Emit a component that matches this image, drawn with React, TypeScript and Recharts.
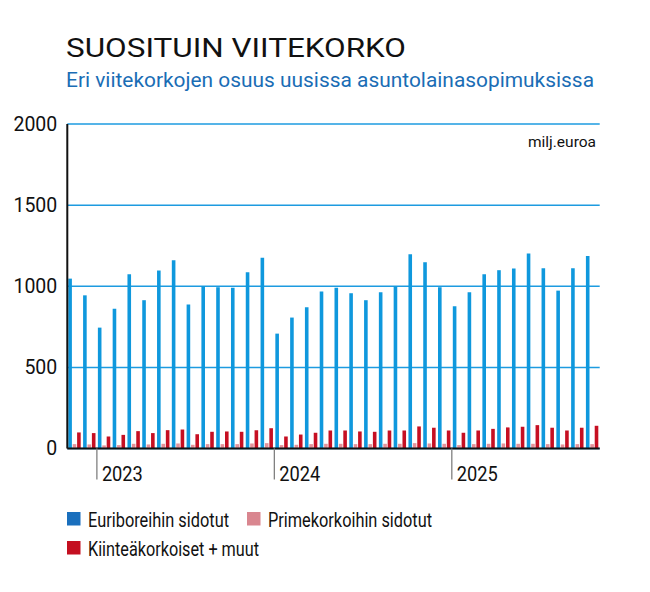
import React from 'react';
import { BarChart, Bar, XAxis, YAxis, CartesianGrid } from 'recharts';

const months = [
  '2022-11', '2022-12',
  '2023-01', '2023-02', '2023-03', '2023-04', '2023-05', '2023-06', '2023-07', '2023-08', '2023-09', '2023-10', '2023-11', '2023-12',
  '2024-01', '2024-02', '2024-03', '2024-04', '2024-05', '2024-06', '2024-07', '2024-08', '2024-09', '2024-10', '2024-11', '2024-12',
  '2025-01', '2025-02', '2025-03', '2025-04', '2025-05', '2025-06', '2025-07', '2025-08', '2025-09', '2025-10',
];

const euribor = [
  1047, 944,
  745, 862, 1074, 914, 1097, 1160, 887, 1000, 994, 990, 1086, 1175,
  708, 807, 870, 967, 990, 957, 914, 963, 1000, 1197, 1148, 994,
  877, 963, 1074, 1099, 1109, 1202, 1111, 973, 1111, 1187,
];

const prime = [
  27, 25,
  19, 21, 29, 25, 29, 31, 23, 27, 27, 27, 31, 33,
  21, 23, 27, 29, 29, 27, 27, 29, 29, 33, 31, 29,
  21, 27, 29, 31, 29, 29, 27, 25, 27, 27,
];

const fixedRate = [
  99, 95,
  74, 84, 107, 95, 113, 117, 88, 103, 105, 103, 113, 125,
  74, 86, 97, 111, 111, 105, 103, 111, 111, 136, 128, 111,
  97, 111, 121, 130, 134, 144, 128, 111, 128, 140,
];

const yTicks = [0, 500, 1000, 1500, 2000];
const yearTicks = ['2023-01', '2024-01', '2025-01'];
const seriesNames = ['Euriboreihin sidotut', 'Primekorkoihin sidotut', 'Kiinteäkorkoiset + muut'];
const title = 'SUOSITUIN VIITEKORKO';
const subtitle = 'Eri viitekorkojen osuus uusissa asuntolainasopimuksissa';
const unitLabel = 'milj.euroa';

const data = months.map((m, i) => ({
  m,
  euribor: euribor[i],
  prime: prime[i],
  fixedRate: fixedRate[i],
}));

const BLUE = '#0f98dd';
const PINK = '#e4939b';
const RED = '#c60f22';
const GRID = '#1d9be0';
const SANS = 'Roboto, "Noto Sans", sans-serif';

function YearTick(props: any) {
  const { x, y, payload } = props;
  const half = payload && payload.offset ? payload.offset : 7.4;
  const lx = x - half;
  const label = String(payload.value).slice(0, 4);
  return (
    <g>
      <line x1={lx} y1={y} x2={lx} y2={y + 31} stroke="#808080" strokeWidth={1.3} />
      <text x={lx + 5} y={y + 32.5} fontSize={19.5} fill="#111" fontFamily={SANS} textLength={41} lengthAdjust="spacingAndGlyphs">
        {label}
      </text>
    </g>
  );
}

export default function App() {
  const legendItems = [
    { name: seriesNames[0], color: '#1a6fbd', x: 67, y: 512, len: 141 },
    { name: seriesNames[1], color: '#d9868f', x: 247, y: 512, len: 164 },
    { name: seriesNames[2], color: '#c40f20', x: 67, y: 541, len: 171 },
  ];
  return (
    <div style={{ position: 'absolute', left: 0, top: 0, width: 650, height: 592, background: '#fff' }}>
      <BarChart
        width={650}
        height={592}
        data={data}
        margin={{ top: 124, right: 50.3, bottom: 113.5, left: 0 }}
        barGap={0.8}
        barSize={3.6}
      >
        <CartesianGrid vertical={false} stroke={GRID} strokeWidth={1.5} />
        <XAxis
          dataKey="m"
          ticks={yearTicks}
          interval={0}
          height={30}
          tickSize={0}
          tickMargin={0}
          tickLine={false}
          axisLine={{ stroke: '#111', strokeWidth: 2 }}
          tick={<YearTick />}
        />
        <YAxis
          domain={[0, 2000]}
          ticks={yTicks}
          width={67.3}
          tickLine={false}
          tickSize={0}
          tickMargin={10}
          axisLine={{ stroke: '#111', strokeWidth: 2 }}
          tick={{ fontSize: 19.5, fill: '#111', fontFamily: SANS }}
        />
        <Bar dataKey="euribor" fill={BLUE} isAnimationActive={false} />
        <Bar dataKey="prime" fill={PINK} isAnimationActive={false} />
        <Bar dataKey="fixedRate" fill={RED} isAnimationActive={false} />
      </BarChart>
      <svg
        width={650}
        height={592}
        style={{ position: 'absolute', left: 0, top: 0, pointerEvents: 'none' }}
      >
        <text x={66} y={57} fontSize={25} fill="#111" fontFamily={SANS} textLength={340} lengthAdjust="spacingAndGlyphs">
          {title}
        </text>
        <text x={66} y={87} fontSize={19.5} fill="#1a6db5" fontFamily={SANS} textLength={528} lengthAdjust="spacingAndGlyphs">
          {subtitle}
        </text>
        <text x={596} y={146.5} fontSize={15.5} fill="#111" fontFamily={SANS} textAnchor="end">
          {unitLabel}
        </text>
        {legendItems.map((it) => (
          <g key={it.name}>
            <rect x={it.x} y={it.y} width={13.5} height={13.5} fill={it.color} />
            <text
              x={it.x + 21}
              y={it.y + 14.5}
              fontSize={21}
              fill="#111"
              fontFamily={SANS}
              textLength={it.len}
              lengthAdjust="spacingAndGlyphs"
            >
              {it.name}
            </text>
          </g>
        ))}
      </svg>
    </div>
  );
}
